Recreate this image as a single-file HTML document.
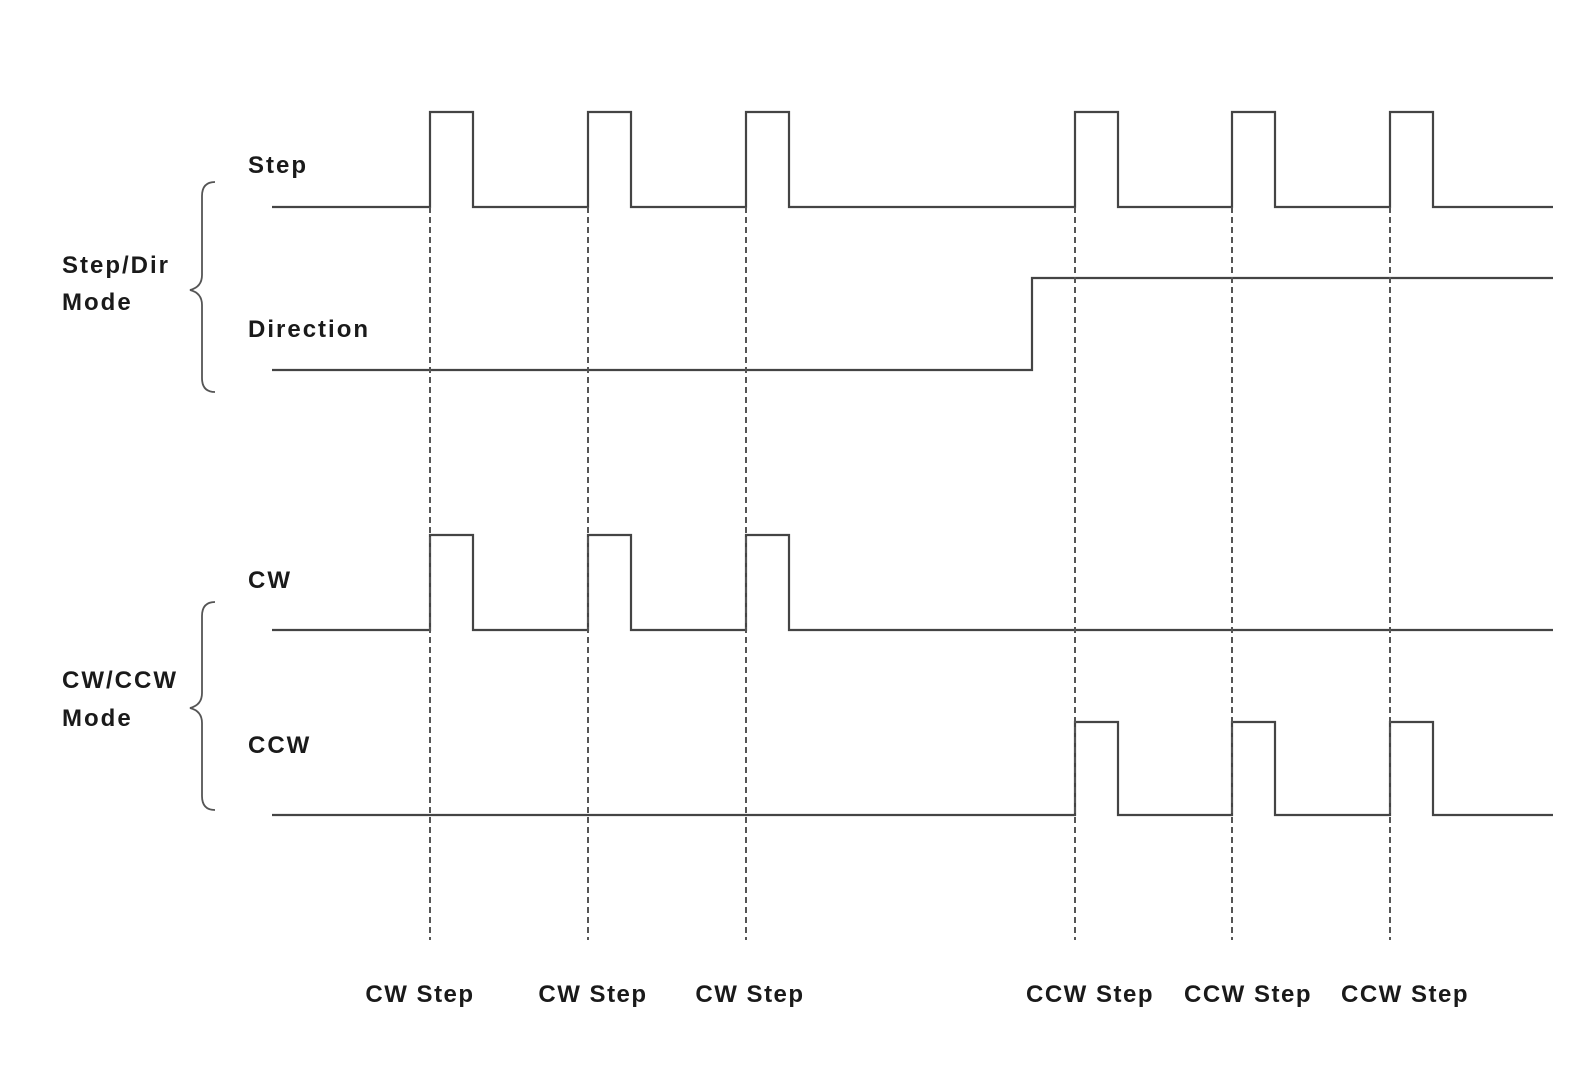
<!DOCTYPE html>
<html><head><style>html,body{margin:0;padding:0;background:#fff;}svg{display:block}</style></head>
<body>
<svg width="1581" height="1080" viewBox="0 0 1581 1080" xmlns="http://www.w3.org/2000/svg">
<g fill="none" stroke="#444" stroke-width="2.2">
<path d="M272 207H430V112H473V207H588V112H631V207H746V112H789V207H1075V112H1118V207H1232V112H1275V207H1390V112H1433V207H1553"/>
<path d="M272 370H1032V278H1553"/>
<path d="M272 630H430V535H473V630H588V535H631V630H746V535H789V630H1553"/>
<path d="M272 815H1075V722H1118V815H1232V722H1275V815H1390V722H1433V815H1553"/>
</g>
<g stroke="#555" stroke-width="2" stroke-dasharray="6,4">
<path d="M430 207V940M588 207V940M746 207V940M1075 207V940M1232 207V940M1390 207V940"/>
</g>
<g fill="none" stroke="#555" stroke-width="1.8">
<path d="M215 182Q202 182 202 196V275Q202 287 190 290Q202 293 202 305V378Q202 392 215 392"/>
<path d="M215 602Q202 602 202 616V693Q202 705 190 708Q202 711 202 723V796Q202 810 215 810"/>
</g>
<g font-family="Liberation Sans, sans-serif" font-weight="bold" font-size="24" fill="#1a1a1a" letter-spacing="2">
<text x="248" y="173">Step</text>
<text x="248" y="337">Direction</text>
<text x="248" y="588">CW</text>
<text x="248" y="753">CCW</text>
<text x="62" y="273">Step/Dir</text>
<text x="62" y="310">Mode</text>
<text x="62" y="688">CW/CCW</text>
<text x="62" y="726">Mode</text>
<g text-anchor="middle" letter-spacing="1.5">
<text x="420" y="1002">CW Step</text>
<text x="593" y="1002">CW Step</text>
<text x="750" y="1002">CW Step</text>
<text x="1090" y="1002">CCW Step</text>
<text x="1248" y="1002">CCW Step</text>
<text x="1405" y="1002">CCW Step</text>
</g>
</g>
</svg>
</body></html>
